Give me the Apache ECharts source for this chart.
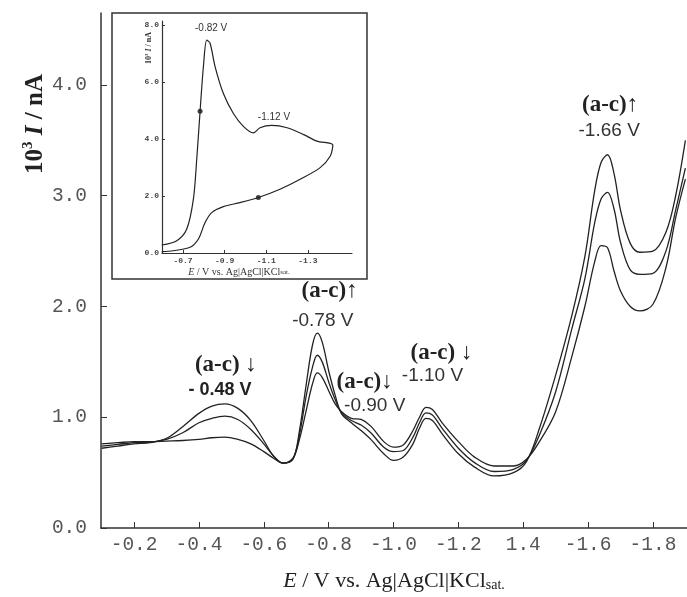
<!DOCTYPE html>
<html>
<head>
<meta charset="utf-8">
<script src="https://cdn.jsdelivr.net/npm/echarts@6/dist/echarts.min.js"></script>
<style>
  html, body { margin: 0; padding: 0; background: #fff; }
  #main { width: 687px; height: 597px; }
</style>
</head>
<body>
<div id="main"></div>
<script>
// potential (V vs Ag|AgCl|KCl sat.) shared by the three DPV curves
var potential = [-0.10, -0.15, -0.20, -0.25, -0.30, -0.35, -0.40, -0.44, -0.48, -0.52,
  -0.56, -0.60, -0.63, -0.66, -0.69, -0.71, -0.73, -0.75, -0.765, -0.78,
  -0.80, -0.82, -0.84, -0.87, -0.90, -0.93, -0.97, -1.00, -1.03, -1.06,
  -1.08, -1.10, -1.12, -1.15, -1.20, -1.25, -1.31, -1.37, -1.41, -1.45,
  -1.50, -1.55, -1.59, -1.62, -1.64, -1.66, -1.68, -1.70, -1.73, -1.76,
  -1.80, -1.84, -1.87, -1.90];
var curveA = [0.72, 0.74, 0.76, 0.77, 0.81, 0.915, 1.035, 1.10, 1.12, 1.08,
  0.97, 0.79, 0.65, 0.585, 0.63, 0.80, 1.05, 1.30, 1.40, 1.36,
  1.24, 1.12, 1.05, 0.99, 0.98, 0.92, 0.78, 0.73, 0.75, 0.88,
  1.00, 1.09, 1.07, 0.95, 0.78, 0.64, 0.56, 0.56, 0.62, 0.78,
  1.05, 1.55, 2.00, 2.40, 2.55, 2.53, 2.32, 2.14, 2.00, 1.96,
  2.02, 2.35, 2.80, 3.15];
var curveB = [0.74, 0.755, 0.77, 0.775, 0.80, 0.86, 0.95, 0.99, 1.01, 0.98,
  0.89, 0.76, 0.65, 0.585, 0.625, 0.84, 1.18, 1.45, 1.56, 1.50,
  1.32, 1.16, 1.04, 0.97, 0.93, 0.86, 0.73, 0.69, 0.70, 0.82,
  0.95, 1.04, 1.02, 0.90, 0.72, 0.59, 0.51, 0.53, 0.61, 0.84,
  1.23, 1.80, 2.25, 2.75, 2.97, 3.03, 2.88, 2.58, 2.33, 2.29,
  2.30, 2.50, 2.87, 3.25];
var curveC = [0.76, 0.77, 0.78, 0.78, 0.785, 0.79, 0.80, 0.815, 0.82, 0.80,
  0.76, 0.69, 0.63, 0.585, 0.62, 0.88, 1.28, 1.65, 1.76, 1.68,
  1.42, 1.20, 1.03, 0.95, 0.88, 0.80, 0.67, 0.61, 0.64, 0.76,
  0.90, 0.99, 0.97, 0.85, 0.67, 0.55, 0.47, 0.50, 0.60, 0.90,
  1.38, 1.92, 2.45, 3.04, 3.30, 3.37, 3.20, 2.87, 2.57, 2.49,
  2.50, 2.67, 3.00, 3.50];

var xTicks = [-0.2, -0.4, -0.6, -0.8, -1.0, -1.2, -1.4, -1.6, -1.8];
var xTickLabels = ['-0.2', '-0.4', '-0.6', '-0.8', '-1.0', '-1.2', '1.4', '-1.6', '-1.8'];
var yTicks = [0, 1, 2, 3, 4];

// inset: cyclic voltammogram
var cvPotential = [-0.598, -0.67, -0.718, -0.75, -0.766, -0.782, -0.798, -0.814, -0.83, -0.854,
  -0.894, -0.942, -0.99, -1.038, -1.07, -1.126, -1.2, -1.28, -1.343, -1.42,
  -1.407, -1.359, -1.263, -1.166, -1.062, -0.974, -0.894, -0.838, -0.806, -0.774,
  -0.734, -0.653, -0.598];
var cvCurrent = [0.28, 0.43, 0.84, 1.9, 3.3, 4.98, 6.55, 7.48, 7.37, 6.55,
  5.6, 4.9, 4.45, 4.22, 4.4, 4.48, 4.4, 4.16, 3.93, 3.79,
  3.4, 3.0, 2.59, 2.24, 1.95, 1.77, 1.63, 1.42, 1.07, 0.49,
  0.2, 0.08, 0.05];
var cvDots = [[-0.782, 4.98], [-1.062, 1.95]];
var insetXTicks = [-0.7, -0.9, -1.1, -1.3];
var insetYTicks = [0, 2, 4, 6, 8];

// peak annotations [E, I, text, kind]
var notes = [
  [-0.483, 1.47, '(a-c) ↓', 'h'], [-0.465, 1.247, '- 0.48 V', 'vb'],
  [-0.803, 2.137, '(a-c)↑', 'h'], [-0.782, 1.87, '-0.78 V', 'v'],
  [-0.911, 1.318, '(a-c)↓', 'h'], [-0.942, 1.104, '-0.90 V', 'v'],
  [-1.148, 1.576, '(a-c) ↓', 'h'], [-1.12, 1.371, '-1.10 V', 'v'],
  [-1.668, 3.82, '(a-c)↑', 'h'], [-1.665, 3.589, '-1.66 V', 'v']
];
var insetNotes = [[-0.835, 7.9, '-0.82 V'], [-1.137, 4.76, '-1.12 V']];

var chart = echarts.init(document.getElementById('main'));

function pairs(xs, ys) {
  return xs.map(function (x, i) { return [x, ys[i]]; });
}
function tickLabel(v) {
  for (var i = 0; i < xTicks.length; i++) {
    if (Math.abs(xTicks[i] - v) < 1e-6) return xTickLabels[i];
  }
  return '';
}

var noteStyles = {
  h: { fontFamily: 'Liberation Serif, DejaVu Serif', fontWeight: 'bold', fontSize: 23, color: '#222' },
  v: { fontFamily: 'Liberation Sans, Arial', fontSize: 19, color: '#333' },
  vb: { fontFamily: 'Liberation Sans, Arial', fontWeight: 'bold', fontSize: 18, color: '#222' }
};

var markData = notes.map(function (n) {
  return {
    coord: [n[0], n[1]],
    label: Object.assign({ show: true, position: 'inside', formatter: n[2] }, noteStyles[n[3]])
  };
});
var insetMarkData = insetNotes.map(function (n) {
  return {
    coord: [n[0], n[1]],
    label: { show: true, position: 'inside', formatter: n[2], fontFamily: 'Liberation Sans, Arial', fontSize: 10, color: '#333' }
  };
});

var lineStyle = { color: '#222', width: 1.3 };
var monoLabel = { fontFamily: 'Liberation Mono, DejaVu Sans Mono', fontSize: 19.5, color: '#555' };

var option = {
  backgroundColor: '#fff',
  animation: false,
  grid: [
    { left: 101, right: 0, top: 13, bottom: 62 },
    { left: 162, top: 21, width: 190, height: 232 }
  ],
  xAxis: [{
    type: 'value', gridIndex: 0, inverse: true, min: -1.905, max: -0.098,
    axisLine: { lineStyle: { color: '#333', width: 1.5 } },
    axisTick: { inside: true, length: 6, customValues: xTicks, lineStyle: { color: '#333' } },
    axisLabel: Object.assign({ customValues: xTicks, margin: 7, formatter: tickLabel }, monoLabel),
    splitLine: { show: false },
    name: '{i|E}{r| / V vs. Ag|AgCl|KCl}{s|sat.}',
    nameLocation: 'middle', nameGap: 42,
    nameTextStyle: {
      rich: {
        i: { fontFamily: 'Liberation Serif', fontStyle: 'italic', fontSize: 22, color: '#222' },
        r: { fontFamily: 'Liberation Serif', fontSize: 22, color: '#222' },
        s: { fontFamily: 'Liberation Serif', fontSize: 14, color: '#222', verticalAlign: 'bottom', lineHeight: 20 }
      }
    }
  }, {
    type: 'value', gridIndex: 1, inverse: true, min: -1.512, max: -0.599,
    axisLine: { lineStyle: { color: '#333', width: 1.2 } },
    axisTick: { inside: true, length: 3, customValues: insetXTicks, lineStyle: { color: '#333' } },
    axisLabel: {
      customValues: insetXTicks, margin: 4, fontFamily: 'Liberation Mono', fontWeight: 'bold',
      fontSize: 8, color: '#444', formatter: function (v) { return v.toFixed(1); }
    },
    splitLine: { show: false }
  }],
  yAxis: [{
    type: 'value', gridIndex: 0, min: 0, max: 4.65,
    axisLine: { show: true, lineStyle: { color: '#333', width: 1.5 } },
    axisTick: { inside: true, length: 6, customValues: yTicks, lineStyle: { color: '#333' } },
    axisLabel: Object.assign({ customValues: yTicks, margin: 14, formatter: function (v) { return v.toFixed(1); } }, monoLabel),
    splitLine: { show: false }
  }, {
    type: 'value', gridIndex: 1, min: 0, max: 8.15,
    axisLine: { show: true, lineStyle: { color: '#333', width: 1.2 } },
    axisTick: { inside: true, length: 3, customValues: insetYTicks, lineStyle: { color: '#333' } },
    axisLabel: {
      customValues: insetYTicks, margin: 3, fontFamily: 'Liberation Mono', fontWeight: 'bold',
      fontSize: 8, color: '#444', formatter: function (v) { return v.toFixed(1); }
    },
    splitLine: { show: false }
  }],
  graphic: [
    {
      type: 'rect', z: -10, shape: { x: 112, y: 13, width: 255, height: 266 },
      style: { fill: '#fff', stroke: '#333', lineWidth: 1.5 }
    },
    {
      type: 'text', x: 36, y: 124, rotation: Math.PI / 2,
      style: {
        text: '{b|10}{sup|3}{i| I}{b| / nA}', textAlign: 'center', textVerticalAlign: 'middle',
        rich: {
          b: { fontFamily: 'Liberation Serif', fontWeight: 'bold', fontSize: 25, lineHeight: 30, fill: '#222' },
          sup: { fontFamily: 'Liberation Serif', fontWeight: 'bold', fontSize: 15, verticalAlign: 'top', fill: '#222' },
          i: { fontFamily: 'Liberation Serif', fontWeight: 'bold', fontStyle: 'italic', fontSize: 25, lineHeight: 30, fill: '#222' }
        }
      }
    },
    {
      type: 'text', x: 149, y: 48, rotation: Math.PI / 2,
      style: {
        text: '{b|10}{sup|3}{i| I}{b| / nA}', textAlign: 'center', textVerticalAlign: 'middle',
        rich: {
          b: { fontFamily: 'Liberation Serif', fontWeight: 'bold', fontSize: 8, lineHeight: 10, fill: '#333' },
          sup: { fontFamily: 'Liberation Serif', fontWeight: 'bold', fontSize: 5, verticalAlign: 'top', fill: '#333' },
          i: { fontFamily: 'Liberation Serif', fontWeight: 'bold', fontStyle: 'italic', fontSize: 8, lineHeight: 10, fill: '#333' }
        }
      }
    },
    {
      type: 'text', x: 239, y: 272,
      style: {
        text: '{i|E}{r| / V vs. Ag|AgCl|KCl}{s|sat.}', textAlign: 'center', textVerticalAlign: 'middle',
        rich: {
          i: { fontFamily: 'Liberation Serif', fontStyle: 'italic', fontSize: 10, fill: '#333' },
          r: { fontFamily: 'Liberation Serif', fontSize: 10, fill: '#333' },
          s: { fontFamily: 'Liberation Serif', fontSize: 7, fill: '#333' }
        }
      }
    }
  ],
  series: [
    {
      name: 'a', type: 'line', xAxisIndex: 0, yAxisIndex: 0, data: pairs(potential, curveA),
      showSymbol: false, smooth: 0.35, lineStyle: lineStyle
    },
    {
      name: 'b', type: 'line', xAxisIndex: 0, yAxisIndex: 0, data: pairs(potential, curveB),
      showSymbol: false, smooth: 0.35, lineStyle: lineStyle
    },
    {
      name: 'c', type: 'line', xAxisIndex: 0, yAxisIndex: 0, data: pairs(potential, curveC),
      showSymbol: false, smooth: 0.35, lineStyle: lineStyle,
      markPoint: { symbol: 'circle', symbolSize: 0, itemStyle: { color: 'transparent' }, data: markData }
    },
    {
      name: 'CV', type: 'line', xAxisIndex: 1, yAxisIndex: 1, data: pairs(cvPotential, cvCurrent),
      showSymbol: false, smooth: 0.3, lineStyle: { color: '#222', width: 1.2 },
      markPoint: { symbol: 'circle', symbolSize: 0, itemStyle: { color: 'transparent' }, data: insetMarkData }
    },
    {
      name: 'marks', type: 'scatter', xAxisIndex: 1, yAxisIndex: 1, data: cvDots,
      symbolSize: 5, itemStyle: { color: '#111' }
    }
  ]
};
chart.setOption(option);
</script>
</body>
</html>
